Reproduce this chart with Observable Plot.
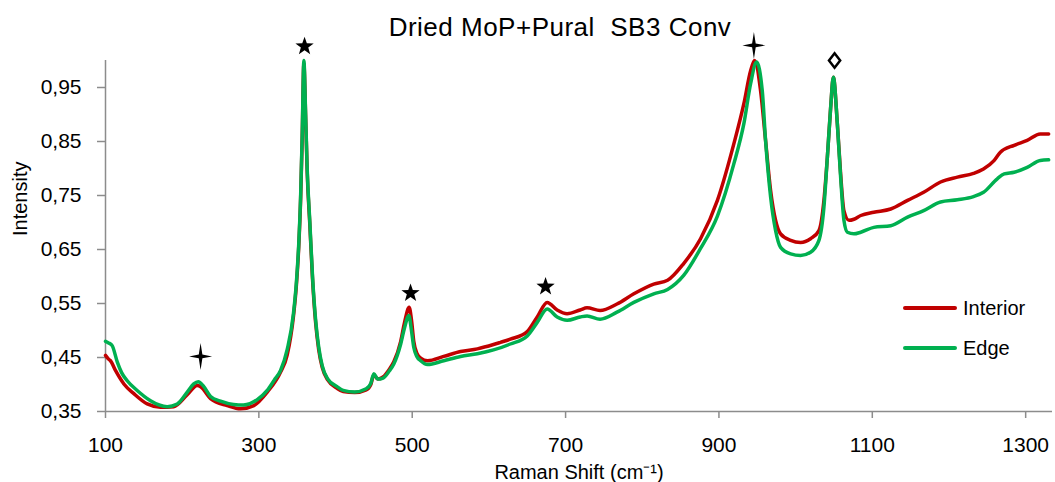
<!DOCTYPE html>
<html><head><meta charset="utf-8">
<script src="https://cdn.jsdelivr.net/npm/d3@7"></script>
<script src="https://cdn.jsdelivr.net/npm/@observablehq/plot@0.6"></script>
<style>
html,body{margin:0;padding:0;background:#fff;}
#wrap{position:relative;width:1055px;height:482px;font-family:"Liberation Sans",Arial,sans-serif;color:#000;}
#title{position:absolute;left:0;top:14px;width:1120px;text-align:center;font-size:26px;letter-spacing:0.5px;line-height:1;white-space:pre;}
.legline{position:absolute;left:903px;width:54px;height:4px;border-radius:2px;}
.legtext{position:absolute;left:963px;font-size:20px;line-height:20px;}
</style>
</head><body>
<div id="wrap">
  <div id="chart"></div>
  <div id="title">Dried MoP+Pural  SB3 Conv</div>
  <div class="legline" style="top:306px;background:#C00000"></div>
  <div class="legtext" style="top:298px">Interior</div>
  <div class="legline" style="top:346px;background:#00B050"></div>
  <div class="legtext" style="top:338px">Edge</div>
</div>
<script>
// ---- data ----
const interiorShift = [100,104,106.5,113,124,137,154.4,171.7,189,206.6,219.6,224,237,258.7,276,293.4,311,328.3,337,345,349,352,354.5,356.5,358.7,361,363,366.5,370,374,378,382.6,390,402,410,425,440,446,450,455,462,470,476,485,490,496,499,502,506,511,520,541,563,585,606,615,628,650,663,676,689,702,719,728,745,767,789,815,833,854,876,898,919.5,932.5,941.3,946.5,954.3,960.8,967.4,973.9,980.4,993.5,1006.5,1019.5,1030.4,1036.9,1041.4,1045.7,1049.2,1054.4,1058.7,1063,1069.6,1076,1085,1102,1124,1146,1167,1189,1211,1232,1245,1259,1267,1285,1302,1319,1330];
const interiorIntensity = [0.454,0.447,0.444,0.426,0.401,0.383,0.364,0.358,0.359,0.381,0.398,0.396,0.374,0.361,0.355,0.361,0.386,0.423,0.455,0.525,0.585,0.655,0.745,0.855,0.995,0.895,0.795,0.695,0.595,0.515,0.465,0.432,0.408,0.393,0.387,0.385,0.390,0.400,0.418,0.410,0.414,0.428,0.442,0.48,0.515,0.543,0.52,0.48,0.458,0.449,0.444,0.452,0.461,0.466,0.474,0.478,0.484,0.498,0.525,0.552,0.538,0.531,0.538,0.542,0.537,0.549,0.568,0.586,0.593,0.624,0.670,0.741,0.846,0.92,0.981,1.0,0.944,0.852,0.759,0.704,0.679,0.667,0.663,0.670,0.685,0.741,0.821,0.913,0.969,0.883,0.79,0.722,0.704,0.706,0.713,0.719,0.725,0.741,0.756,0.775,0.784,0.791,0.799,0.815,0.830,0.843,0.852,0.864,0.864];
const edgeShift = [100,104,108.7,115.3,121,128.3,141.3,158.7,170,180.5,193.5,206.6,215,221,227.8,237,250,267,280,297.9,310.9,320,328.3,337,345,349,352,354.5,356.5,358.7,361,363,366.5,370,374,378,382.6,390,402,410,425,440,446,450,455,462,470,476,485,490,495.6,499,502,506,511,520,541,563,585,606,628,650,663,676,689,702,719,728,745,767,789,815,833,854,876,898,919.5,932.5,941.3,949.1,956.5,960.8,967.4,973.9,980.4,993.5,1006.5,1019.5,1030.4,1036.9,1041.4,1045.7,1049.2,1054.4,1058.7,1063,1067.5,1076,1085,1102,1124,1146,1167,1189,1211,1232,1245,1263,1272,1285,1302,1319,1330];
const edgeIntensity = [0.480,0.477,0.472,0.442,0.422,0.407,0.389,0.370,0.362,0.359,0.364,0.386,0.401,0.405,0.397,0.378,0.369,0.363,0.362,0.372,0.389,0.408,0.426,0.465,0.53,0.59,0.66,0.75,0.86,1.0,0.90,0.80,0.70,0.60,0.52,0.47,0.435,0.41,0.396,0.389,0.386,0.392,0.402,0.420,0.410,0.412,0.425,0.438,0.475,0.505,0.528,0.50,0.469,0.452,0.444,0.437,0.444,0.452,0.457,0.464,0.475,0.490,0.515,0.540,0.525,0.519,0.525,0.527,0.521,0.534,0.552,0.568,0.576,0.602,0.652,0.712,0.809,0.883,0.957,0.997,0.944,0.852,0.747,0.685,0.654,0.642,0.639,0.645,0.667,0.728,0.821,0.913,0.969,0.883,0.784,0.704,0.682,0.679,0.682,0.691,0.694,0.710,0.722,0.738,0.742,0.748,0.756,0.781,0.790,0.793,0.802,0.815,0.816];
const markerShift = [224, 359.6, 497.8, 673.9, 945.6, 1050.8];
const markerIntensity = [0.452, 1.028, 0.571, 0.583, 1.028, 1.0];
const markerKind = ["sparkle","star","star","star","sparkle","diamond"];
const xTicks = [100,300,500,700,900,1100,1300];
const yTicks = [0.35,0.45,0.55,0.65,0.75,0.85,0.95];
const seriesNames = ["Interior","Edge"];
const seriesColors = ["#C00000","#00B050"];

// ---- build tables ----
const interior = interiorShift.map((x,i)=>({x, y: interiorIntensity[i]}));
const edge = edgeShift.map((x,i)=>({x, y: edgeIntensity[i]}));
const markers = markerShift.map((x,i)=>({x, y: markerIntensity[i], kind: markerKind[i]}));

const sparkle = {draw(c){ c.moveTo(0,-13.5); c.lineTo(1.8,-1.8); c.lineTo(11.5,0); c.lineTo(1.8,1.8); c.lineTo(0,13.5); c.lineTo(-1.8,1.8); c.lineTo(-11.5,0); c.lineTo(-1.8,-1.8); c.closePath(); }};
const star5 = {draw(c){ for(let i=0;i<10;i++){ const a=-Math.PI/2+i*Math.PI/5, r=i%2?3.9:9.6; const px=r*Math.cos(a), py=r*Math.sin(a)+1; if(i===0) c.moveTo(px,py); else c.lineTo(px,py);} c.closePath(); }};
const diamond = {draw(c){ c.moveTo(0,-7.3); c.lineTo(5.6,0); c.lineTo(0,7.3); c.lineTo(-5.6,0); c.closePath(); }};

const font = '"Liberation Sans", Arial, sans-serif';
const chart = Plot.plot({
  width: 1055, height: 482,
  marginLeft: 105, marginTop: 60, marginRight: 3, marginBottom: 71,
  style: {fontFamily: font, fontSize: "21px", color: "#000", background: "#fff", overflow: "visible"},
  x: {domain: [100, 1335]},
  y: {domain: [0.35, 1.0]},
  marks: [
    Plot.ruleY([0.35], {stroke: "#8c8c8c", strokeWidth: 1.5}),
    Plot.ruleX([100], {stroke: "#8c8c8c", strokeWidth: 1.5}),
    Plot.axisX({ticks: xTicks, tickSize: 7, tickPadding: 19, stroke: "#8c8c8c", strokeWidth: 1.5, tickFormat: d => String(d), label: null, fontSize: 21}),
    Plot.axisY({ticks: yTicks, tickSize: 8, tickPadding: 16, stroke: "#8c8c8c", strokeWidth: 1.5, tickFormat: d => d.toFixed(2).replace(".", ","), label: null, fontSize: 21}),
    Plot.text(["Raman Shift (cm⁻¹)"], {frameAnchor: "bottom", lineAnchor: "bottom", dy: 67, fontSize: 20}),
    Plot.text(["Intensity"], {frameAnchor: "left", rotate: -90, dx: -85, lineAnchor: "middle", fontSize: 20}),
    Plot.line(interior, {x: "x", y: "y", stroke: seriesColors[0], strokeWidth: 3.5, curve: "monotone-x"}),
    Plot.line(edge, {x: "x", y: "y", stroke: seriesColors[1], strokeWidth: 3.5, curve: "monotone-x"}),
    Plot.dot(markers.filter(d => d.kind === "sparkle"), {x: "x", y: "y", symbol: sparkle, fill: "#000", stroke: "none"}),
    Plot.dot(markers.filter(d => d.kind === "star"), {x: "x", y: "y", symbol: star5, fill: "#000", stroke: "none"}),
    Plot.dot(markers.filter(d => d.kind === "diamond"), {x: "x", y: "y", symbol: diamond, fill: "#fff", stroke: "#000", strokeWidth: 2.5})
  ]
});
document.getElementById("chart").appendChild(chart);
</script>
</body></html>
